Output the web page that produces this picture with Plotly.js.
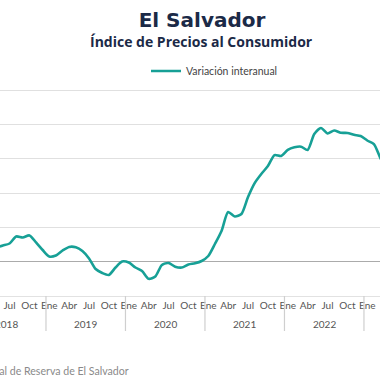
<!DOCTYPE html>
<html>
<head>
<meta charset="utf-8">
<script src="https://cdn.plot.ly/plotly-3.0.1.min.js"></script>
<style>
  html, body { margin: 0; padding: 0; background: #fff; overflow: hidden; }
  #chart { width: 380px; height: 380px; }
</style>
</head>
<body>
<div id="chart"></div>
<script>
// ---- Data ----
const years = [2018, 2019, 2020, 2021, 2022, 2023];
const months = ['Ene', 'Feb', 'Mar', 'Abr', 'May', 'Jun', 'Jul', 'Ago', 'Sep', 'Oct', 'Nov', 'Dic'];
const quarterMonths = ['Ene', 'Abr', 'Jul', 'Oct'];
const serieInicio = '2018 May';
// Variación interanual (%) from May 2018 onward, monthly
const variacionInteranual = [
  0.83, 0.94, 1.06, 1.47, 1.41, 1.53, 1.12, 0.68,
  0.30, 0.36, 0.65, 0.86, 0.84, 0.62, 0.19, -0.43, -0.66, -0.77, -0.34, 0.01,
  -0.05, -0.34, -0.54, -1.00, -0.86, -0.19, -0.08, -0.29, -0.34, -0.16, -0.09, 0.04,
  0.33, 1.03, 1.79, 2.89, 2.63, 2.78, 3.77, 4.58, 5.11, 5.57, 6.21, 6.16,
  6.51, 6.66, 6.70, 6.51, 7.44, 7.79, 7.47, 7.64, 7.51, 7.50, 7.39, 7.32,
  7.06, 6.85, 6.01, 5.30
];
const serieNombre = 'Variación interanual';
const titulo = 'El Salvador';
const subtitulo = 'Índice de Precios al Consumidor';
const fuente = 'Fuente: Banco Central de Reserva de El Salvador';

// ---- Build categories ----
const periodos = [];
years.forEach(y => months.forEach(m => periodos.push(y + ' ' + m)));
const inicioIdx = periodos.indexOf(serieInicio);
const xSerie = variacionInteranual.map((_, k) => periodos[inicioIdx + k]);

const tickvals = periodos.filter(p => quarterMonths.includes(p.split(' ')[1]));
const ticktext = tickvals.map(p => p.split(' ')[1]);

const plotH = 207; // plot height in px (for paper offsets)
const shapes = years.slice(1).map(y => {
  const idx = periodos.indexOf(y + ' Ene') - 0.5;
  return { type: 'line', xref: 'x', yref: 'paper', x0: idx, x1: idx, y0: 0, y1: -35 / plotH,
           line: { color: '#cfcfcf', width: 1.2 } };
});

const tickFont = { family: 'Lato, "Open Sans", sans-serif', size: 10, color: '#555' };
const annotations = years.map(y => ({
  xref: 'x', yref: 'paper', x: periodos.indexOf(y + ' Ene') + 5.5, y: -28 / plotH,
  text: String(y), showarrow: false, xanchor: 'center', yanchor: 'middle', font: tickFont
}));
annotations.push({
  xref: 'paper', yref: 'paper', x: 201 / 380, y: (296 - 41) / plotH, xanchor: 'center', yanchor: 'middle',
  text: '<b>' + subtitulo + '</b>', showarrow: false,
  font: { family: '"Open Sans", Lato, sans-serif', size: 14, color: '#1b2a47' }
});
annotations.push({
  xref: 'paper', yref: 'paper', x: 131 / 380, y: -(371 - 296) / plotH, xanchor: 'right', yanchor: 'middle',
  text: fuente, showarrow: false,
  font: { family: 'Lato, "Open Sans", sans-serif', size: 10.6, color: '#8a8a8a' }
});

const trace = {
  type: 'scatter', mode: 'lines', name: serieNombre,
  x: xSerie, y: variacionInteranual,
  line: { color: '#17a096', width: 2.6, shape: 'spline', smoothing: 0.7 },
  hoverinfo: 'skip'
};

const layout = {
  width: 380, height: 380,
  margin: { l: 0, r: 0, t: 89, b: 84, pad: 0 },
  paper_bgcolor: '#fff', plot_bgcolor: '#fff',
  title: {
    text: '<b>' + titulo + '</b>', x: 202 / 380, xanchor: 'center', xref: 'paper',
    y: 1 - 19.5 / 380, yref: 'container', yanchor: 'middle',
    font: { family: '"DejaVu Sans", sans-serif', size: 20, color: '#1b2a47' }
  },
  showlegend: true,
  legend: {
    orientation: 'h', x: 146 / 380, xanchor: 'left', y: (296 - 71) / plotH, yanchor: 'middle',
    font: { family: 'Lato, "Open Sans", sans-serif', size: 10.5, color: '#444' },
    bgcolor: 'rgba(0,0,0,0)'
  },
  xaxis: {
    type: 'category', categoryorder: 'array', categoryarray: periodos,
    range: [4.56, 61.92],
    tickmode: 'array', tickvals: tickvals, ticktext: ticktext,
    tickfont: tickFont, ticks: '', showgrid: false, zeroline: false,
    showline: true, linecolor: '#e2e2e2', linewidth: 1
  },
  yaxis: {
    range: [-2, 10.06], dtick: 2, tick0: 0,
    showticklabels: false, ticks: '',
    showgrid: true, gridcolor: '#e0e0e0', gridwidth: 1,
    zeroline: true, zerolinecolor: '#ababab', zerolinewidth: 1
  },
  shapes: shapes,
  annotations: annotations
};

Plotly.newPlot('chart', [trace], layout, { displayModeBar: false, staticPlot: true });
</script>
</body>
</html>
